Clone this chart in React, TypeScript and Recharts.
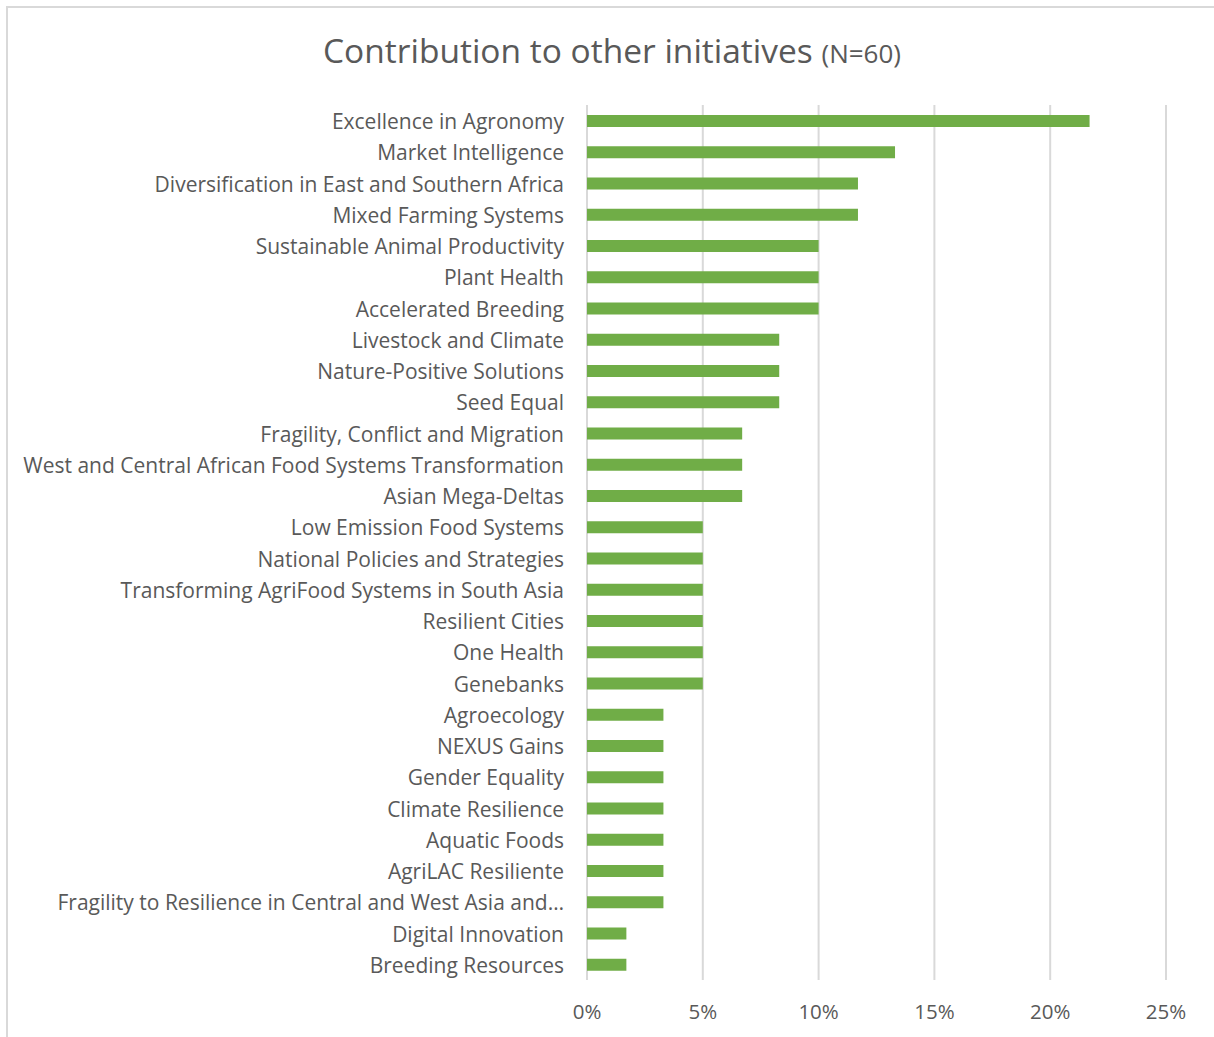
import { BarChart, Bar, XAxis, YAxis, CartesianGrid } from 'recharts'

const initiatives = [
  'Excellence in Agronomy',
  'Market Intelligence',
  'Diversification in East and Southern Africa',
  'Mixed Farming Systems',
  'Sustainable Animal Productivity',
  'Plant Health',
  'Accelerated Breeding',
  'Livestock and Climate',
  'Nature-Positive Solutions',
  'Seed Equal',
  'Fragility, Conflict and Migration',
  'West and Central African Food Systems Transformation',
  'Asian Mega-Deltas',
  'Low Emission Food Systems',
  'National Policies and Strategies',
  'Transforming AgriFood Systems in South Asia',
  'Resilient Cities',
  'One Health',
  'Genebanks',
  'Agroecology',
  'NEXUS Gains',
  'Gender Equality',
  'Climate Resilience',
  'Aquatic Foods',
  'AgriLAC Resiliente',
  'Fragility to Resilience in Central and West Asia and…',
  'Digital Innovation',
  'Breeding Resources',
]

// share of respondents (%), N=60
const shares = [
  21.7, 13.3, 11.7, 11.7, 10, 10, 10, 8.3, 8.3, 8.3, 6.7, 6.7, 6.7, 5, 5, 5, 5, 5, 5,
  3.3, 3.3, 3.3, 3.3, 3.3, 3.3, 3.3, 1.7, 1.7,
]

const xTicks = [0, 5, 10, 15, 20, 25]

const data = initiatives.map((name, i) => ({ name, share: shares[i] }))

const font = '"Open Sans", "Noto Sans", sans-serif'
const grey = '#595959'

export default function App() {
  return (
    <div style={{ position: 'absolute', left: 0, top: 0, width: 1214, height: 1037, background: '#fff', fontFamily: font }}>
      <div
        style={{
          position: 'absolute',
          left: 6,
          top: 6,
          right: -10,
          bottom: -10,
          borderLeft: '2px solid #d9d9d9',
          borderTop: '2px solid #d9d9d9',
        }}
      />
      <div
        style={{
          position: 'absolute',
          left: 0,
          width: 1224,
          top: 29,
          textAlign: 'center',
          color: grey,
          fontSize: 33.5,
          lineHeight: '42px',
        }}
      >
        Contribution to other initiatives <span style={{ fontSize: 26 }}>(N=60)</span>
      </div>
      <div style={{ position: 'absolute', left: 0, top: 0 }}>
        <BarChart
          width={1214}
          height={1037}
          data={data}
          layout="vertical"
          margin={{ top: 105, right: 48, left: 0, bottom: 0 }}
        >
          <CartesianGrid horizontal={false} stroke="#d9d9d9" strokeWidth={2} />
          <XAxis
            type="number"
            domain={[0, 25]}
            ticks={xTicks}
            tickFormatter={(v) => `${v}%`}
            axisLine={false}
            tickLine={false}
            tickSize={0}
            tickMargin={24}
            height={57}
            interval={0}
            tick={{ fontSize: 20.5, fill: grey, fontFamily: font }}
          />
          <YAxis
            type="category"
            dataKey="name"
            width={587}
            axisLine={false}
            tickLine={false}
            tickSize={0}
            tickMargin={23}
            interval={0}
            tick={{ fontSize: 21, fill: grey, fontFamily: font, dy: 1 }}
          />
          <Bar dataKey="share" fill="#70ad47" barSize={12} isAnimationActive={false} />
        </BarChart>
      </div>
    </div>
  )
}
